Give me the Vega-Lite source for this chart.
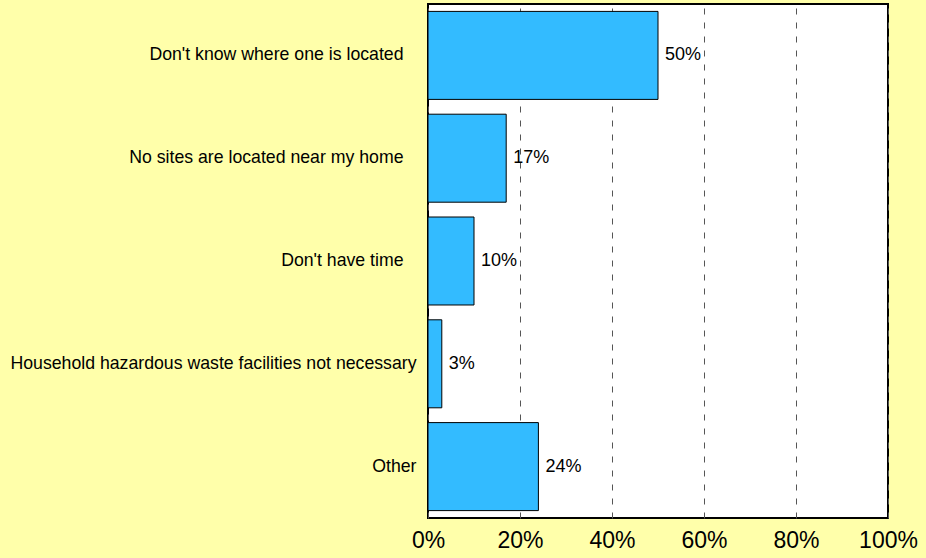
{
  "$schema": "https://vega.github.io/schema/vega-lite/v6.json",
  "width": 460,
  "height": 514,
  "autosize": {"type": "none"},
  "padding": {"left": 428, "top": 4, "right": 38, "bottom": 40},
  "background": "#FFFFAA",
  "config": {
    "view": {"fill": "white", "stroke": "black", "strokeWidth": 2},
    "font": "Liberation Sans"
  },
  "data": {
    "values": [
      {"reason": "Don't know where one is located", "pct": 50, "label": "50%"},
      {"reason": "No sites are located near my home", "pct": 17, "label": "17%"},
      {"reason": "Don't have time", "pct": 10, "label": "10%"},
      {"reason": "Household hazardous waste facilities not necessary", "pct": 3, "label": "3%"},
      {"reason": "Other", "pct": 24, "label": "24%"}
    ]
  },
  "encoding": {
    "y": {
      "field": "reason",
      "type": "nominal",
      "sort": null,
      "scale": {"paddingInner": 0.144, "paddingOuter": 0.072},
      "axis": {
        "title": null,
        "domain": false,
        "ticks": false,
        "labelPadding": {"condition": {"test": "datum.value == 'Other' || datum.value == 'Household hazardous waste facilities not necessary'", "value": 12}, "value": 25},
        "labelFontSize": 17.7,
        "labelColor": "black",
        "labelLimit": 600,
        "grid": false
      }
    }
  },
  "layer": [
    {
      "mark": {"type": "bar", "color": "#33BBFF", "stroke": "black", "strokeWidth": 1},
      "encoding": {
        "x": {
          "field": "pct",
          "type": "quantitative",
          "scale": {"domain": [0, 100], "nice": false},
          "axis": {
            "title": null,
            "domain": false,
            "ticks": false,
            "values": [0, 20, 40, 60, 80, 100],
            "labelExpr": "datum.value + '%'",
            "labelFontSize": 23,
            "labelColor": "black",
            "labelPadding": 11,
            "labelFlush": false,
            "grid": true,
            "gridColor": "#555555",
            "gridDash": [6, 8],
            "gridWidth": 1
          }
        }
      }
    },
    {
      "mark": {"type": "text", "align": "left", "dx": 7, "fontSize": 18, "color": "black"},
      "encoding": {
        "x": {"field": "pct", "type": "quantitative"},
        "text": {"field": "label", "type": "nominal"}
      }
    }
  ]
}
